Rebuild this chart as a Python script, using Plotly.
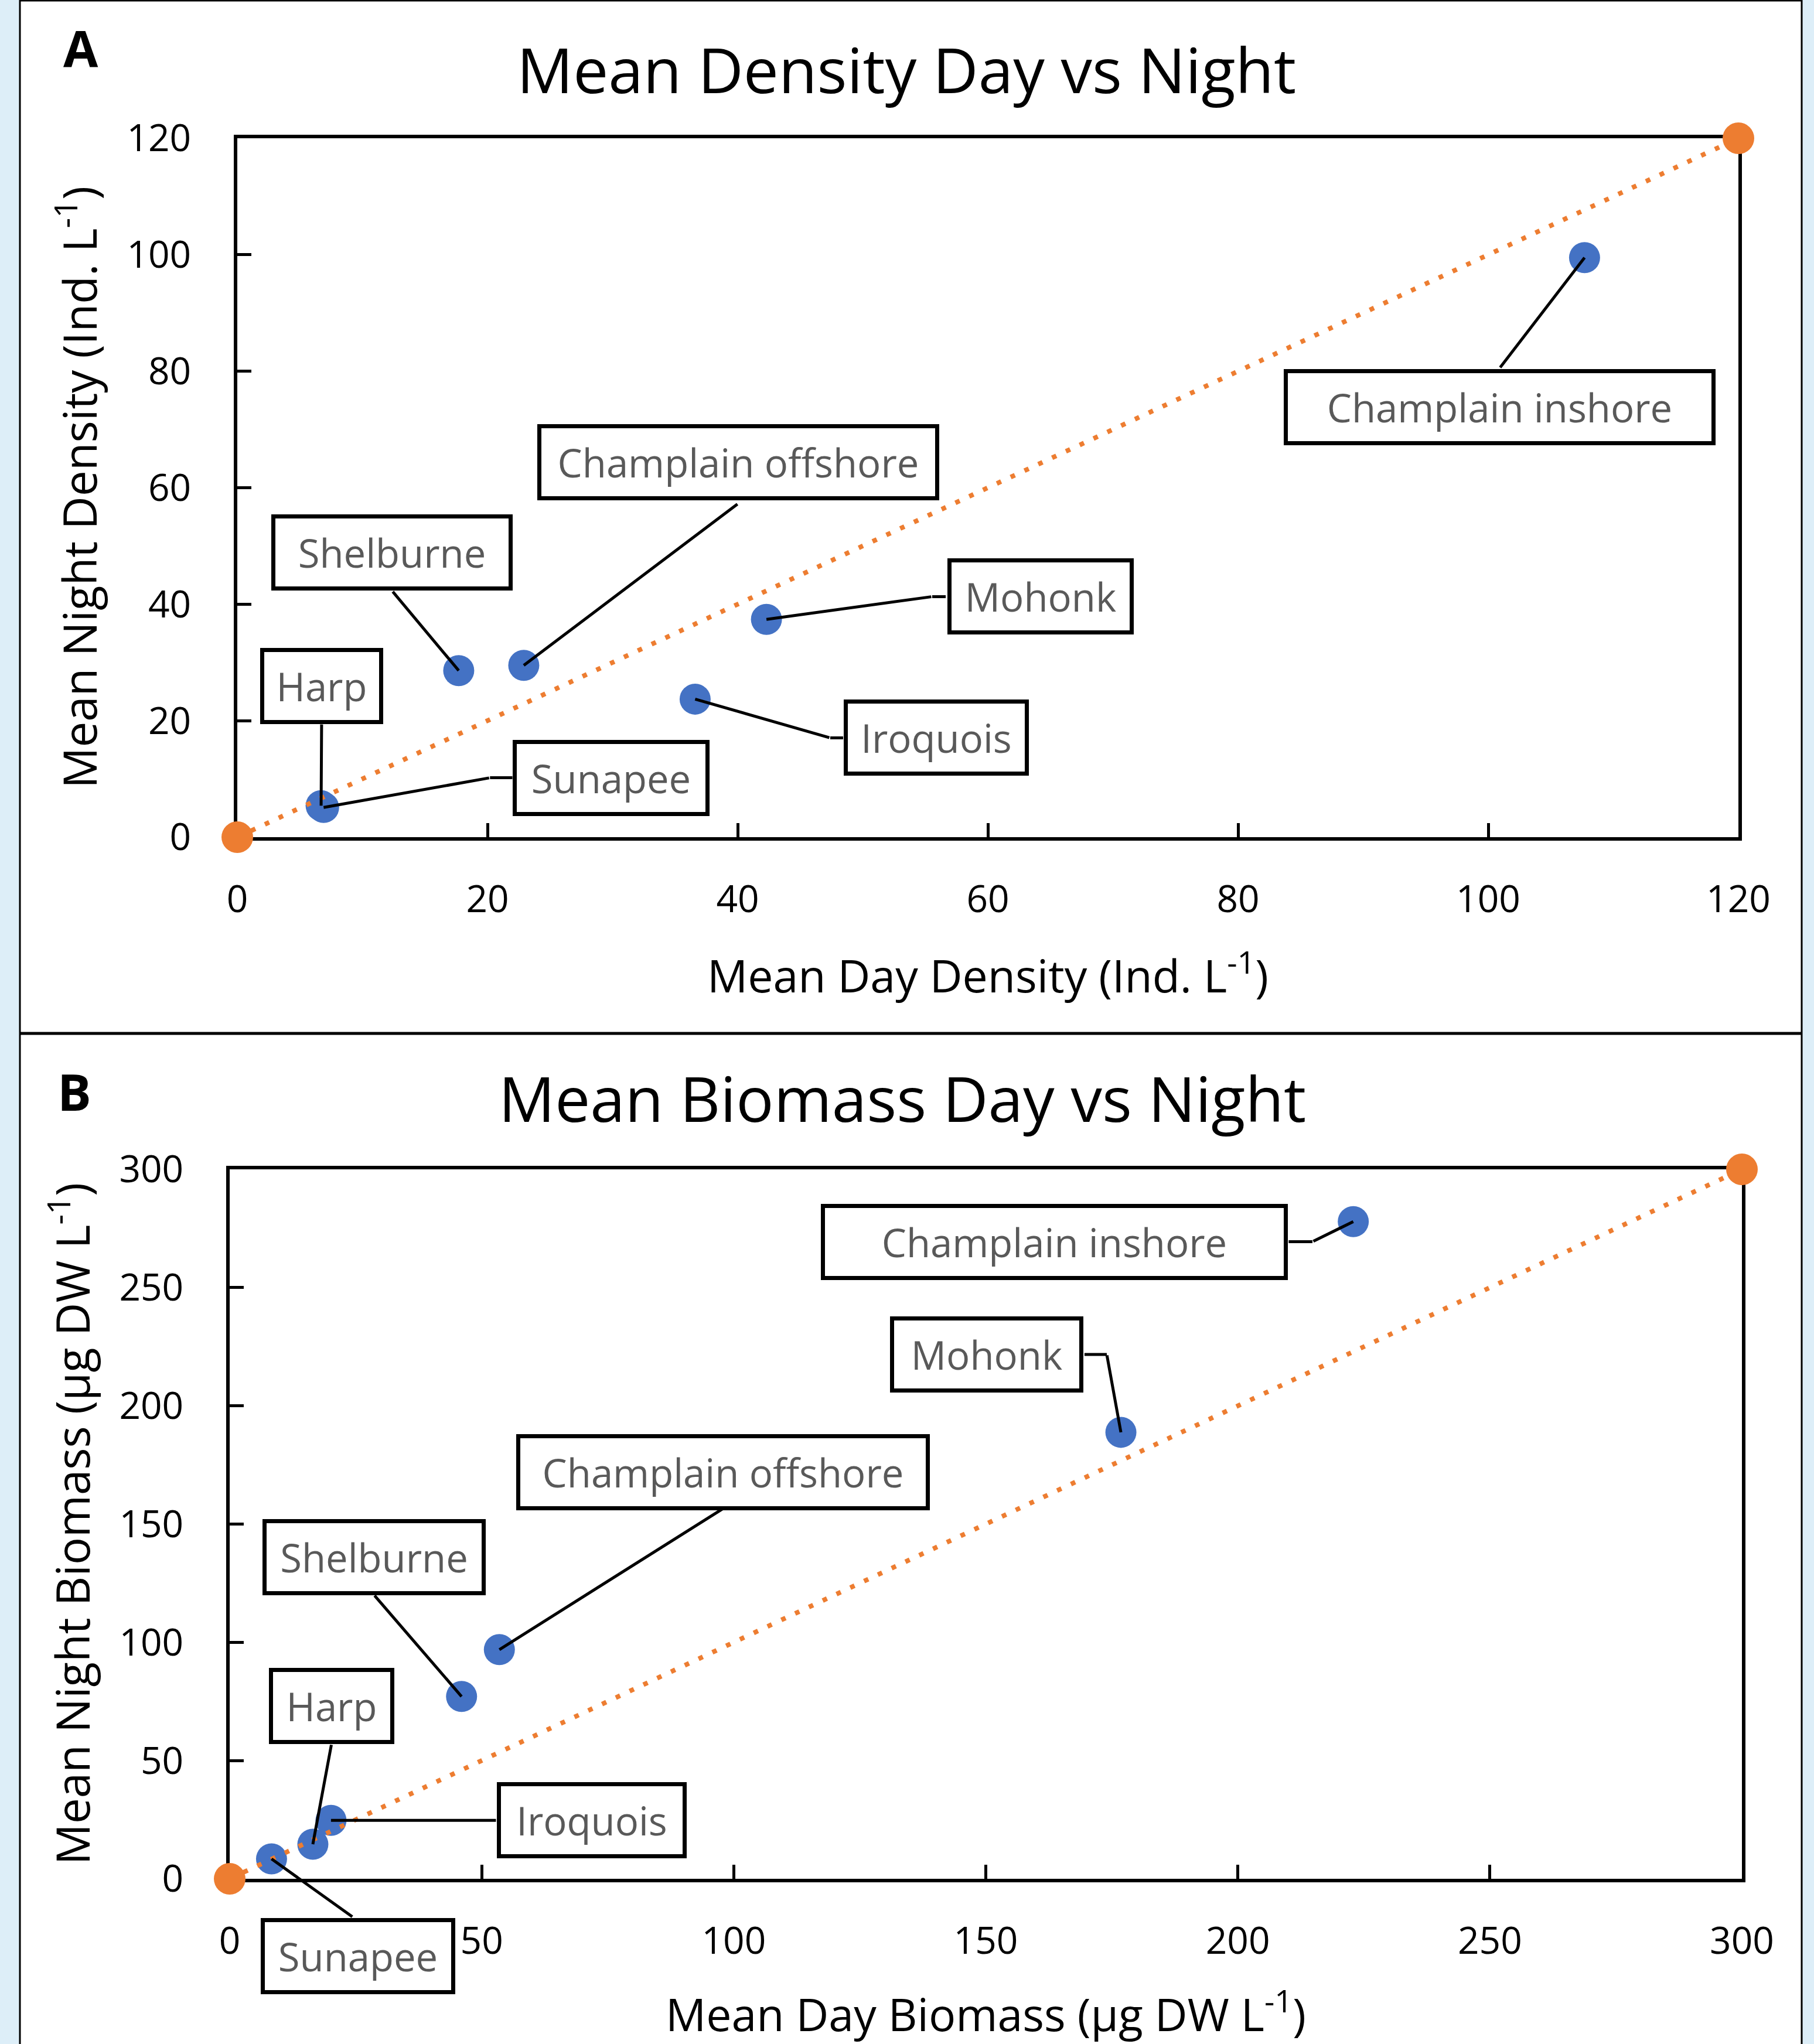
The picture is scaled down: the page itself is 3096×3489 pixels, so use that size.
import plotly.graph_objects as go

# ---------------- data ----------------
sites = ["Champlain inshore", "Champlain offshore", "Shelburne", "Mohonk",
         "Iroquois", "Harp", "Sunapee"]
day_density = [107.7, 22.9, 17.7, 42.3, 36.6, 6.7, 6.9]
night_density = [99.5, 29.5, 28.6, 37.4, 23.7, 5.4, 5.1]
day_biomass = [222.9, 53.5, 46.0, 176.8, 20.1, 16.5, 8.3]
night_biomass = [277.9, 96.9, 77.1, 188.8, 24.7, 14.6, 8.4]
one_to_one_density = [0, 120]
one_to_one_biomass = [0, 300]

density_ticks = [0, 20, 40, 60, 80, 100, 120]
biomass_ticks = [0, 50, 100, 150, 200, 250, 300]

# label boxes: centre (data units), width (px), leader path from point (data units)
labels_a = {
    "Champlain inshore": dict(cx=100.9, cy=73.8, w=737, path=[(100.9, 80.5)]),
    "Champlain offshore": dict(cx=40.05, cy=64.4, w=686, path=[(40.05, 57.3)]),
    "Shelburne": dict(cx=12.37, cy=48.9, w=412, path=[(12.37, 42.3)]),
    "Mohonk": dict(cx=64.2, cy=41.3, w=318, path=[(55.55, 41.3), (56.7, 41.3)]),
    "Iroquois": dict(cx=55.9, cy=17.05, w=316, path=[(47.4, 17.05), (48.5, 17.05)]),
    "Harp": dict(cx=6.74, cy=25.95, w=210, path=[(6.74, 19.5)]),
    "Sunapee": dict(cx=29.9, cy=10.2, w=336, path=[(20.2, 10.2), (22.06, 10.2)]),
}
labels_b = {
    "Champlain inshore": dict(cx=163.6, cy=269.4, w=797, path=[(214.8, 269.4), (209.9, 269.4)]),
    "Mohonk": dict(cx=150.2, cy=221.7, w=330, path=[(174.0, 221.7), (169.4, 221.7)]),
    "Champlain offshore": dict(cx=97.9, cy=171.9, w=706, path=[(97.9, 156.6)]),
    "Shelburne": dict(cx=28.6, cy=135.9, w=381, path=[(28.6, 120.1)]),
    "Harp": dict(cx=20.2, cy=73.1, w=214, path=[(20.2, 57.0)]),
    "Iroquois": dict(cx=71.8, cy=24.7, w=324, path=[(53.0, 24.7)]),
    "Sunapee": dict(cx=25.5, cy=None, paper_y=0.043, w=332, path=[(24.5, -16.3)]),
}

W, H = 3096, 3489
FONT = "Open Sans"
BLUE = "#4472C4"
ORANGE = "#ED7D31"
BOX_H = 130
BW = 7

fig = go.Figure()

# panel A traces
fig.add_trace(go.Scatter(x=day_density, y=night_density, mode="markers",
                         marker=dict(color=BLUE, size=53), cliponaxis=False,
                         xaxis="x", yaxis="y", showlegend=False))
fig.add_trace(go.Scatter(x=one_to_one_density, y=one_to_one_density, mode="lines+markers",
                         marker=dict(color=ORANGE, size=54),
                         line=dict(color=ORANGE, width=8, dash="8px,18px"),
                         cliponaxis=False, xaxis="x", yaxis="y", showlegend=False))
# panel B traces
fig.add_trace(go.Scatter(x=day_biomass, y=night_biomass, mode="markers",
                         marker=dict(color=BLUE, size=53), cliponaxis=False,
                         xaxis="x2", yaxis="y2", showlegend=False))
fig.add_trace(go.Scatter(x=one_to_one_biomass, y=one_to_one_biomass, mode="lines+markers",
                         marker=dict(color=ORANGE, size=54),
                         line=dict(color=ORANGE, width=8, dash="8px,18px"),
                         cliponaxis=False, xaxis="x2", yaxis="y2", showlegend=False))

annotations = []


def add_labels(labels, xs, ys, xr, yr):
    for i, name in enumerate(sites):
        lab = labels[name]
        # leader line segments
        pts = [(xs[i], ys[i])] + lab["path"]
        for (hx, hy), (tx, ty) in zip(pts[:-1], pts[1:]):
            annotations.append(dict(
                x=hx, y=hy, xref=xr, yref=yr, ax=tx, ay=ty, axref=xr, ayref=yr,
                text="", showarrow=True, arrowhead=0, arrowwidth=5,
                arrowcolor="black", standoff=0, startstandoff=0))
        box = dict(text=name, showarrow=False, xref=xr, x=lab["cx"],
                   xanchor="center", yanchor="middle",
                   width=lab["w"] - 2 * BW, height=BOX_H - 2 * BW,
                   borderpad=0, borderwidth=BW, bordercolor="black", bgcolor="white",
                   font=dict(family=FONT, size=67, color="#595959"), align="center")
        if lab["cy"] is None:
            box.update(yref="paper", y=lab["paper_y"])
        else:
            box.update(yref=yr, y=lab["cy"])
        annotations.append(box)


add_labels(labels_a, day_density, night_density, "x", "y")
add_labels(labels_b, day_biomass, night_biomass, "x2", "y2")

# titles, panel letters, axis titles
def txt(text, x, y, size, bold=False, angle=0):
    annotations.append(dict(text=f"<b>{text}</b>" if bold else text, x=x, y=y,
                            xref="paper", yref="paper", showarrow=False,
                            xanchor="center", yanchor="middle", textangle=angle,
                            font=dict(family=FONT, size=size, color="black")))

txt("Mean Density Day vs Night", 0.4997, 0.9662, 107)
txt("Mean Biomass Day vs Night", 0.4974, 0.4630, 107)
txt("A", 0.0446, 0.9765, 86, bold=True)
txt("B", 0.0410, 0.4663, 86, bold=True)
txt("Mean Day Density (Ind. L<sup>-1</sup>)", 0.5446, 0.5242, 77)
txt("Mean Day Biomass (µg DW L<sup>-1</sup>)", 0.5436, 0.0158, 77)
txt("Mean Night Density (Ind. L<sup>-1</sup>)", 0.0425, 0.7615, 78, angle=-90)
txt("Mean Night Biomass (µg DW L<sup>-1</sup>)", 0.0385, 0.2545, 78, angle=-90)

axis_common = dict(showgrid=False, zeroline=False, showline=True, linewidth=6,
                   linecolor="black", mirror=True, ticks="inside", ticklen=24,
                   tickwidth=5, tickcolor="black", layer="below traces",
                   automargin=False,
                   tickfont=dict(family=FONT, size=64, color="black"))

fig.update_layout(
    template="none",
    width=W, height=H, autosize=False,
    margin=dict(l=0, r=0, t=0, b=0, pad=0, autoexpand=False),
    paper_bgcolor="#DDEEF8", plot_bgcolor="white",
    xaxis=dict(domain=[405 / W, 2967 / W], range=[0, 120], tickvals=density_ticks,
               anchor="y", ticklabelstandoff=45, **axis_common),
    yaxis=dict(domain=[1 - 1429 / H, 1 - 236 / H], range=[0, 120], tickvals=density_ticks,
               anchor="x", ticklabelstandoff=60, **axis_common),
    xaxis2=dict(domain=[392 / W, 2973 / W], range=[0, 300], tickvals=biomass_ticks,
                anchor="y2", ticklabelstandoff=45, **axis_common),
    yaxis2=dict(domain=[1 - 3207 / H, 1 - 1996 / H], range=[0, 300], tickvals=biomass_ticks,
                anchor="x2", ticklabelstandoff=60, **axis_common),
    annotations=annotations,
    shapes=[
        dict(type="rect", xref="paper", yref="paper", x0=34 / W, x1=3075 / W, y0=0, y1=1,
             fillcolor="white", line=dict(width=0), layer="below"),
        dict(type="line", xref="paper", yref="paper", x0=34 / W, x1=34 / W, y0=0, y1=1,
             line=dict(color="black", width=3), layer="below"),
        dict(type="line", xref="paper", yref="paper", x0=3075 / W, x1=3075 / W, y0=0, y1=1,
             line=dict(color="black", width=3), layer="below"),
        dict(type="line", xref="paper", yref="paper", x0=34 / W, x1=3075 / W,
             y0=1 - 1 / H, y1=1 - 1 / H, line=dict(color="black", width=3), layer="below"),
        dict(type="line", xref="paper", yref="paper", x0=34 / W, x1=3075 / W,
             y0=1 - 1764 / H, y1=1 - 1764 / H, line=dict(color="black", width=5), layer="below"),
    ],
)

fig.write_html("out.html",
               config={"displayModeBar": False},
               post_script="document.body.style.margin='0px';"
                           "document.body.style.background='#DDEEF8';")
